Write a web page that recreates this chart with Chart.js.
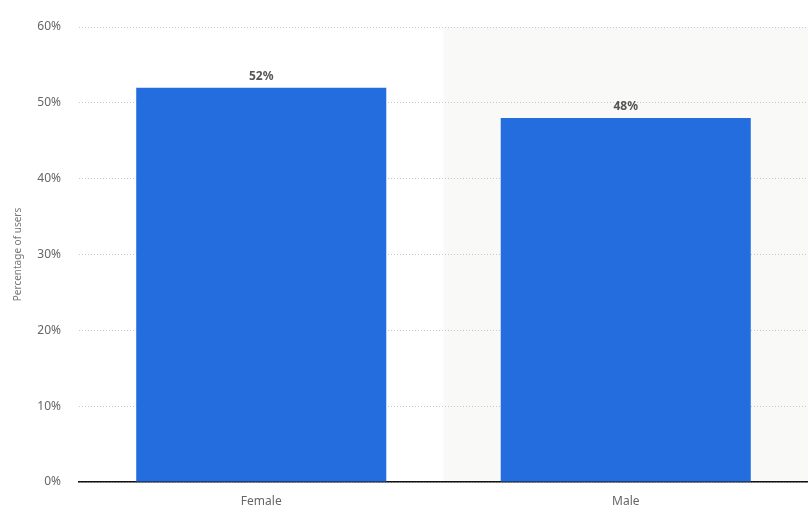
<!DOCTYPE html>
<html>
<head>
<meta charset="utf-8">
<script src="https://cdn.jsdelivr.net/npm/chart.js@4/dist/chart.umd.min.js"></script>
<style>
  html, body { margin: 0; padding: 0; background: #fff; }
  #wrap { width: 808px; height: 512px; }
</style>
</head>
<body>
<div id="wrap"><canvas id="genderChart"></canvas></div>
<script>
// Share of users by gender
var categories = ['Female', 'Male'];
var shareValues = [52, 48];
var yTicks = [0, 10, 20, 30, 40, 50, 60];

// Light grey band behind every second category (drawn before grid and axes)
var bandPlugin = {
    id: 'band',
    beforeDraw: function (chart) {
        var ctx = chart.ctx;
        var x = chart.scales.x;
        var area = chart.chartArea;
        ctx.save();
        ctx.fillStyle = '#f9f9f8';
        for (var i = 1; i < categories.length; i += 2) {
            var half = (x.getPixelForValue(1) - x.getPixelForValue(0)) / 2;
            var c = x.getPixelForValue(i);
            ctx.fillRect(c - half, area.top, half * 2, area.bottom - area.top);
        }
        ctx.restore();
    }
};

// Value labels over the bars
var valueLabels = {
    id: 'valueLabels',
    afterDatasetsDraw: function (chart) {
        var ctx = chart.ctx;
        var meta = chart.getDatasetMeta(0);
        ctx.save();
        ctx.font = 'bold 12px "Noto Sans"';
        ctx.fillStyle = '#555';
        ctx.textAlign = 'center';
        ctx.textBaseline = 'bottom';
        meta.data.forEach(function (bar, i) {
            ctx.fillText(shareValues[i] + '%', bar.x, bar.y - 5);
        });
        ctx.restore();
    }
};

var ctx = document.getElementById('genderChart').getContext('2d');
new Chart(ctx, {
    type: 'bar',
    data: {
        labels: categories,
        datasets: [{
            data: shareValues,
            backgroundColor: '#246dde',
            borderWidth: 0,
            categoryPercentage: 1,
            barPercentage: 0.686
        }]
    },
    options: {
        responsive: true,
        maintainAspectRatio: false,
        animation: false,
        layout: { padding: { top: 27, right: 0, left: 0, bottom: 0 } },
        plugins: {
            legend: { display: false },
            tooltip: { enabled: false }
        },
        scales: {
            x: {
                grid: { display: false, drawTicks: false },
                border: { display: true, color: '#111', width: 1.5 },
                ticks: {
                    color: '#666',
                    font: { family: 'Noto Sans', size: 12 },
                    padding: 12
                },
                afterFit: function (scale) { scale.height = 30; }
            },
            y: {
                min: 0,
                max: 60,
                afterBuildTicks: function (scale) {
                    scale.ticks = yTicks.map(function (v) { return { value: v }; });
                },
                grid: {
                    color: '#c8c8c8',
                    drawTicks: false,
                    lineWidth: 1
                },
                border: { display: false, dash: [1, 2] },
                ticks: {
                    color: '#666',
                    font: { family: 'Noto Sans', size: 12 },
                    padding: 18,
                    callback: function (v) { return v + '%'; }
                },
                title: {
                    display: true,
                    text: 'Percentage of users',
                    color: '#777',
                    font: { family: 'Noto Sans', size: 10 },
                    padding: { top: 12, bottom: 0 }
                },
                afterFit: function (scale) { scale.width = 79; }
            }
        }
    },
    plugins: [bandPlugin, valueLabels]
});
</script>
</body>
</html>
